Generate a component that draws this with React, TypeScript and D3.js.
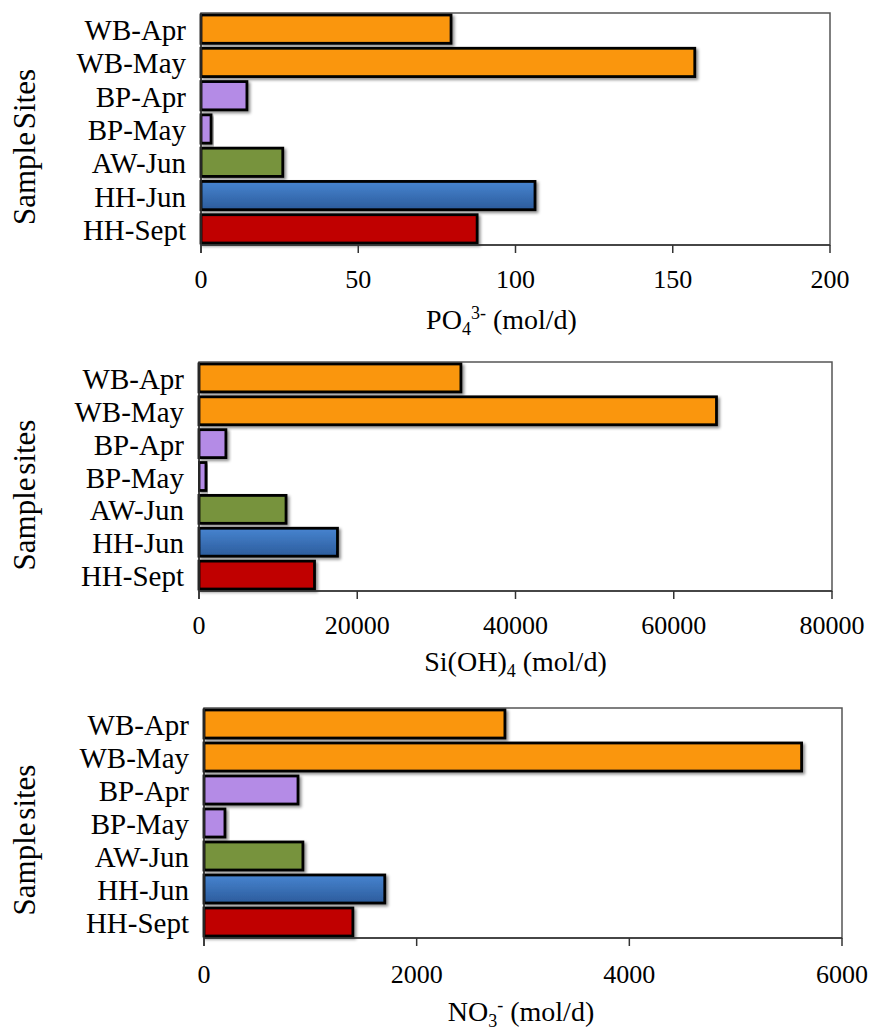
import React from 'react';
import * as d3 from 'd3';

const categories = ['WB-Apr', 'WB-May', 'BP-Apr', 'BP-May', 'AW-Jun', 'HH-Jun', 'HH-Sept'];
const categoryColors = ['#FA960D', '#FA960D', '#B48BE6', '#B48BE6', '#77933C', 'url(#blueGrad)', '#C00000'];

const po4Values = [79.5, 157, 14.6, 3.2, 26, 106.2, 87.8];
const po4Ticks = [0, 50, 100, 150, 200];

const siValues = [33100, 65400, 3400, 880, 11000, 17500, 14600];
const siTicks = [0, 20000, 40000, 60000, 80000];

const no3Values = [2830, 5620, 884, 197, 930, 1700, 1400];
const no3Ticks = [0, 2000, 4000, 6000];

const FONT = '"Liberation Serif", "Times New Roman", serif';

type Layout = {
	left: number;
	right: number;
	top: number;
	bottom: number;
	tickLabelY: number;
	titleY: number;
	titleDx: number;
	yTitleY: number;
};

const layouts: Layout[] = [
	{ left: 201, right: 830, top: 13, bottom: 245, tickLabelY: 279, titleY: 329, titleDx: -14, yTitleY: 147 },
	{ left: 199, right: 832, top: 362, bottom: 591, tickLabelY: 625, titleY: 671, titleDx: 0, yTitleY: 495 },
	{ left: 204, right: 842, top: 708, bottom: 938, tickLabelY: 974, titleY: 1021, titleDx: -2, yTitleY: 840 },
];

const Panel: React.FC<{
	values: number[];
	ticks: number[];
	layout: Layout;
	yTitle: string;
	xTitle: React.ReactNode;
}> = ({ values, ticks, layout, yTitle, xTitle }) => {
	const { left, right, top, bottom } = layout;
	const x = d3
		.scaleLinear()
		.domain([ticks[0], ticks[ticks.length - 1]])
		.range([left, right]);
	const y = d3
		.scaleBand()
		.domain(categories)
		.range([top, bottom])
		.paddingInner(0.15)
		.paddingOuter(0.06);

	return (
		<g>
			{/* frame */}
			<rect x={left} y={top} width={right - left} height={bottom - top} fill="#fff" stroke="#555" strokeWidth={1.5} />
			{/* bars */}
			{categories.map((c, i) => (
				<rect
					key={c}
					x={x(0)}
					y={y(c)}
					width={x(values[i]) - x(0)}
					height={y.bandwidth()}
					fill={categoryColors[i]}
					stroke="#000"
					strokeWidth={2.8}
					filter="url(#shadow)"
				/>
			))}
			{/* axes */}
			<line x1={left} x2={left} y1={top} y2={bottom + 8} stroke="#333" strokeWidth={1.5} />
			<line x1={left} x2={right} y1={bottom} y2={bottom} stroke="#333" strokeWidth={1.5} />
			{ticks.map((t) => (
				<g key={t}>
					<line x1={x(t)} x2={x(t)} y1={bottom} y2={bottom + 8} stroke="#333" strokeWidth={1.5} />
					<text x={x(t)} y={layout.tickLabelY} textAnchor="middle" dominantBaseline="central" fontSize={26}>
						{t}
					</text>
				</g>
			))}
			{categories.map((c) => (
				<text
					key={c}
					x={left - 15}
					y={(y(c) ?? 0) + y.bandwidth() / 2 + 1}
					textAnchor="end"
					dominantBaseline="central"
					fontSize={29}>
					{c}
				</text>
			))}
			<text x={(left + right) / 2 + layout.titleDx} y={layout.titleY} textAnchor="middle" fontSize={28}>
				{xTitle}
			</text>
			<text
				transform={`translate(24,${layout.yTitleY}) rotate(-90)`}
				textAnchor="middle"
				dominantBaseline="central"
				wordSpacing={-5}
				fontSize={31}>
				{yTitle}
			</text>
		</g>
	);
};

export default function App() {
	return (
		<svg
			width={874}
			height={1030}
			style={{ position: 'absolute', left: 0, top: 0, background: '#fff' }}
			fontFamily={FONT}
			fill="#000">
			<defs>
				<filter id="shadow" x="-10%" y="-20%" width="130%" height="160%">
					<feDropShadow dx={2} dy={2} stdDeviation={1.5} floodColor="#000" floodOpacity={0.45} />
				</filter>
				<linearGradient id="blueGrad" x1="0" y1="0" x2="0" y2="1">
					<stop offset="0%" stopColor="#4784D0" />
					<stop offset="100%" stopColor="#2C5C9C" />
				</linearGradient>
			</defs>
			<rect width={874} height={1030} fill="#fff" />
			<Panel
				values={po4Values}
				ticks={po4Ticks}
				layout={layouts[0]}
				yTitle="Sample Sites"
				xTitle={
					<>
						PO
						<tspan fontSize={18} dy={6}>4</tspan>
						<tspan fontSize={18} dy={-16}>3-</tspan>
						<tspan dy={10}> (mol/d)</tspan>
					</>
				}
			/>
			<Panel
				values={siValues}
				ticks={siTicks}
				layout={layouts[1]}
				yTitle="Sample sites"
				xTitle={
					<>
						Si(OH)
						<tspan fontSize={18} dy={6}>4</tspan>
						<tspan dy={-6}> (mol/d)</tspan>
					</>
				}
			/>
			<Panel
				values={no3Values}
				ticks={no3Ticks}
				layout={layouts[2]}
				yTitle="Sample sites"
				xTitle={
					<>
						NO
						<tspan fontSize={18} dy={6}>3</tspan>
						<tspan fontSize={18} dy={-16}>-</tspan>
						<tspan dy={10}> (mol/d)</tspan>
					</>
				}
			/>
		</svg>
	);
}
